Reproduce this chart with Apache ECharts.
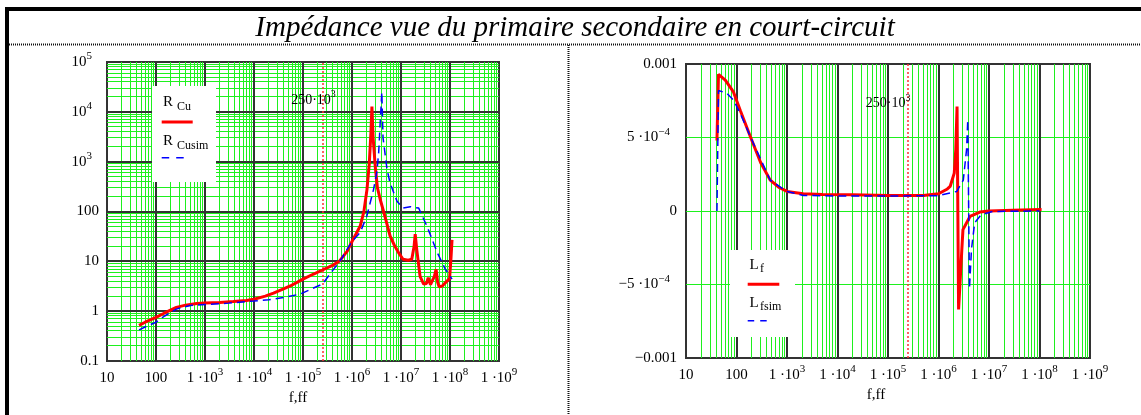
<!DOCTYPE html>
<html>
<head>
<meta charset="utf-8">
<script src="https://cdn.jsdelivr.net/npm/echarts@6/dist/echarts.min.js"></script>
<style>html,body{margin:0;padding:0;background:#fff}#c{width:1141px;height:415px}</style>
</head>
<body>
<div id="c"></div>
<script>
// ---- Data ----
const titleText = 'Impédance vue du primaire secondaire en court-circuit';
const xAxisName = 'f,ff';
const markerFreq = 250000;

// Left: R_Cu (red) and R_Cusim (blue dashed), log-log
const fRCu = [45, 60, 100, 150, 260, 400, 680, 1000, 2000, 3800, 7000, 10000, 17000, 25000, 40000, 55000, 100000, 160000, 250000, 400000, 550000, 800000, 1000000, 1200000, 1470000, 1750000, 2020000, 2250000, 2430000, 2550000, 2700000, 2980000, 3300000, 3770000, 4700000, 6000000, 7500000, 8900000, 11000000, 14000000, 16600000, 18500000, 19500000, 21000000, 24500000, 29000000, 33000000, 36000000, 40000000, 43000000, 48000000, 52000000, 56000000, 60000000, 70000000, 80000000, 98000000, 105000000, 110000000];
const vRCu = [0.52, 0.6, 0.75, 0.92, 1.19, 1.32, 1.43, 1.46, 1.5, 1.56, 1.64, 1.74, 2.0, 2.3, 2.8, 3.2, 4.4, 5.5, 6.7, 8.3, 10, 16, 25, 35, 51, 100, 275, 900, 3700, 12800, 3000, 800, 300, 174, 80, 32, 20, 15, 11, 10.5, 11, 20, 35, 17, 5, 3.5, 3.6, 4.7, 3.4, 3.5, 5, 6.9, 3.8, 3.1, 3.2, 3.7, 4.5, 12, 27];

const fRCusim = [45, 60, 100, 150, 260, 500, 1000, 3000, 10000, 20000, 40000, 87000, 150000, 250000, 420000, 600000, 1000000, 1470000, 2000000, 2750000, 3200000, 3500000, 3770000, 4060000, 4300000, 5200000, 6000000, 8300000, 11000000, 15500000, 23000000, 34000000, 55000000, 80000000, 110000000];
const vRCusim = [0.42, 0.48, 0.6, 0.8, 1.1, 1.3, 1.36, 1.45, 1.6, 1.7, 1.88, 2.2, 2.8, 3.5, 6.9, 11, 25, 38, 80, 275, 600, 1500, 6300, 25000, 3000, 690, 370, 160, 117, 125, 117, 50, 15, 7, 4.4];

// Right: L_f (red) and L_fsim (blue dashed), log x / linear y
const fLf = [41, 44, 60, 87, 120, 186, 300, 465, 700, 1000, 2100, 5000, 20000, 100000, 500000, 1000000, 1500000, 1700000, 2050000, 2200000, 2330000, 2500000, 2900000, 3050000, 4200000, 6600000, 10000000, 30000000, 110000000];
const vLf = [0.00048, 0.00093, 0.00089, 0.00081, 0.00068, 0.00051, 0.00033, 0.00021, 0.00016, 0.000133, 0.000117, 0.000112, 0.00011, 0.000106, 0.000105, 0.000117, 0.00015, 0.000167, 0.000258, 0.00042, 0.00071, -0.00067, -0.00026, -0.000127, -0.000037, -0.000007, 0.0, 0.000005, 0.00001];

const fLfsim = [41, 44, 65, 87, 120, 186, 465, 1000, 2100, 10000, 100000, 1000000, 2300000, 3100000, 3600000, 3800000, 4100000, 4500000, 5200000, 7000000, 12000000, 100000000];
const vLfsim = [0, 0.00082, 0.0008, 0.000755, 0.00066, 0.00051, 0.00021, 0.000133, 0.000106, 0.000102, 0.000102, 0.000104, 0.000133, 0.00021, 0.00042, 0.00062, -0.00053, -0.00026, -0.00008, -0.000025, -0.000003, 0];

// Tick labels
const leftYLabels = {'-1': '0.1', '0': '1', '1': '10', '2': '100', '3': '10^3', '4': '10^4', '5': '10^5'};
const rightYLabels = {'0.001': '0.001', '0.0005': '5 ·10^−4', '0': '0', '-0.0005': '−5 ·10^−4', '-0.001': '−0.001'};

// ---- Helpers ----
const zip = (a, b) => a.map((x, i) => [x, b[i]]);
const SERIF = 'Liberation Serif, Times New Roman, serif';
const GREEN = '#1ef01e';
const DARK = '#333333';
const rich = {
  n: {fontFamily: SERIF, fontSize: 15, lineHeight: 22, color: '#000'},
  s: {fontFamily: SERIF, fontSize: 11, lineHeight: 11, verticalAlign: 'top', color: '#000'},
  sy: {fontFamily: SERIF, fontSize: 11, lineHeight: 11, verticalAlign: 'top', color: '#000', padding: [0, 7, 0, 0]}
};
function toRich(str) {
  const p = str.split('^');
  return p.length > 1 ? '{n|' + p[0] + '}{sy|' + p[1] + '}' : '{n|' + p[0] + '}';
}
function xLabel(v) {
  const e = Math.round(Math.log10(v));
  if (e === 1) return '{n|10}';
  if (e === 2) return '{n|100}';
  return '{n|1 ·10}{s|' + e + '}';
}
const minorX = [], decX = [];
for (let n = 1; n <= 8; n++) {
  for (let k = 2; k <= 9; k++) minorX.push(k * Math.pow(10, n));
  if (n >= 2) decX.push(Math.pow(10, n));
}
const minorYL = [], decYL = [];
for (let n = -1; n <= 4; n++) {
  for (let k = 2; k <= 9; k++) minorYL.push(k * Math.pow(10, n));
  if (n >= 0) decYL.push(Math.pow(10, n));
}
// grid lines drawn through the axes' scales (custom series), snapped to crisp pixels
function gridSeries(xi, xs, ys, refX, refY, color, width, z) {
  const items = xs.map(v => [v, refY, 0]).concat(ys.map(v => [refX, v, 1]));
  return {
    type: 'custom', coordinateSystem: 'cartesian2d', xAxisIndex: xi, yAxisIndex: xi,
    data: items, z: z, silent: true, animation: false, clip: true,
    renderItem: function (params, api) {
      const cs = params.coordSys;
      const p = api.coord([api.value(0), api.value(1)]);
      const snap = v => (width % 2 === 1 ? Math.floor(v) + 0.5 : Math.round(v));
      const style = {stroke: color, lineWidth: width, fill: null};
      if (api.value(2) === 0) {
        const x = snap(p[0]);
        return {type: 'line', shape: {x1: x, y1: cs.y, x2: x, y2: cs.y + cs.height}, style: style};
      }
      const y = snap(p[1]);
      return {type: 'line', shape: {x1: cs.x, y1: y, x2: cs.x + cs.width, y2: y}, style: style};
    }
  };
}
function markerSeries(xi, yLabelVal, offset) {
  return {
    type: 'line', xAxisIndex: xi, yAxisIndex: xi, data: [], z: 3, silent: true,
    markLine: {silent: true, symbol: ['none', 'none'], animation: false, label: {show: false},
      lineStyle: {color: '#ff3030', width: 1.5, type: [2, 2]}, emphasis: {disabled: true},
      data: [{xAxis: markerFreq}]},
    markPoint: {silent: true, symbol: 'circle', symbolSize: 0, animation: false,
      data: [{coord: [markerFreq, yLabelVal]}],
      label: {show: true, position: 'inside', offset: offset, formatter: '{n|250·10}{s|3}',
        rich: {n: {fontFamily: SERIF, fontSize: 14, lineHeight: 20, color: '#000'},
               s: {fontFamily: SERIF, fontSize: 10, lineHeight: 10, verticalAlign: 'top', color: '#000'}}}}
  };
}
const lineRed = {color: '#ff0000', width: 3, type: 'solid'};
const lineBlue = {color: '#0000ff', width: 1.5, type: [8, 5]};

const chart = echarts.init(document.getElementById('c'), null, {renderer: 'canvas'});
const option = {
  animation: false,
  backgroundColor: '#ffffff',
  grid: [
    {left: 107, top: 62, width: 392, height: 299, show: true, backgroundColor: '#fff', borderColor: DARK, borderWidth: 2},
    {left: 686, top: 64, width: 404, height: 294, show: true, backgroundColor: '#fff', borderColor: DARK, borderWidth: 2}
  ],
  xAxis: [0, 1].map(i => ({
    type: 'log', logBase: 10, min: 10, max: 1e9, gridIndex: i,
    axisLine: {show: false}, axisTick: {show: false}, splitLine: {show: false}, minorSplitLine: {show: false},
    axisLabel: {formatter: xLabel, rich: rich, margin: 6, showMinLabel: true, showMaxLabel: true},
    name: xAxisName, nameLocation: 'middle', nameGap: i === 0 ? 24 : 26,
    nameTextStyle: {fontFamily: SERIF, fontSize: 15, color: '#000', padding: i === 0 ? [0, 10, 0, 0] : [0, 24, 0, 0]}
  })),
  yAxis: [
    {type: 'log', logBase: 10, min: 0.1, max: 1e5, gridIndex: 0,
     axisLine: {show: false}, axisTick: {show: false}, splitLine: {show: false},
     axisLabel: {margin: 8, rich: rich, showMinLabel: true, showMaxLabel: true,
       formatter: v => toRich(leftYLabels[String(Math.round(Math.log10(v)))] || '')}},
    {type: 'value', min: -0.001, max: 0.001, interval: 0.0005, gridIndex: 1,
     axisLine: {show: false}, axisTick: {show: false}, splitLine: {show: false},
     axisLabel: {margin: 9, rich: rich, showMinLabel: true, showMaxLabel: true,
       formatter: v => toRich(rightYLabels[String(Math.round(v * 1e4) / 1e4)] || '')}}
  ],
  series: [
    gridSeries(0, minorX, minorYL, 100, 1, GREEN, 1, 1),
    gridSeries(0, decX, decYL, 100, 1, DARK, 2, 2),
    gridSeries(1, minorX, [0.0005, 0, -0.0005], 100, 0, GREEN, 1, 1),
    gridSeries(1, decX, [], 100, 0, DARK, 2, 2),
    markerSeries(0, 17400, [-9, 0]),
    markerSeries(1, 0.000735, [-20, 0]),
    {name: 'R Cu', type: 'line', xAxisIndex: 0, yAxisIndex: 0, data: zip(fRCu, vRCu), showSymbol: false, symbol: 'none', lineStyle: lineRed, z: 5, clip: true},
    {name: 'R Cusim', type: 'line', xAxisIndex: 0, yAxisIndex: 0, data: zip(fRCusim, vRCusim), showSymbol: false, symbol: 'none', lineStyle: lineBlue, z: 6, clip: true},
    {name: 'L f', type: 'line', xAxisIndex: 1, yAxisIndex: 1, data: zip(fLf, vLf), showSymbol: false, symbol: 'none', lineStyle: lineRed, z: 5, clip: true},
    {name: 'L fsim', type: 'line', xAxisIndex: 1, yAxisIndex: 1, data: zip(fLfsim, vLfsim), showSymbol: false, symbol: 'none', lineStyle: lineBlue, z: 6, clip: true}
  ],
  graphic: [
    // frame
    {type: 'rect', z: 50, shape: {x: 5, y: 7, width: 1136, height: 4}, style: {fill: '#000'}},
    {type: 'rect', z: 50, shape: {x: 5, y: 7, width: 4, height: 408}, style: {fill: '#000'}},
    {type: 'line', z: 50, shape: {x1: 9, y1: 44.5, x2: 1141, y2: 44.5}, style: {stroke: '#111', lineWidth: 2, lineDash: [1, 1]}},
    {type: 'line', z: 50, shape: {x1: 568.5, y1: 45, x2: 568.5, y2: 415}, style: {stroke: '#111', lineWidth: 2, lineDash: [1, 1]}},
    {type: 'text', z: 50, x: 575, y: 28, style: {text: titleText, fontFamily: SERIF, fontStyle: 'italic', fontSize: 29, fill: '#000', textAlign: 'center', textVerticalAlign: 'middle'}},
    // left legend
    {type: 'rect', z: 40, shape: {x: 152, y: 86, width: 64, height: 96}, style: {fill: '#fff'}},
    {type: 'text', z: 41, x: 163, y: 102, style: {text: 'R', fontFamily: SERIF, fontSize: 15, fill: '#000', textVerticalAlign: 'middle'}},
    {type: 'text', z: 41, x: 177, y: 106.5, style: {text: 'Cu', fontFamily: SERIF, fontSize: 12, fill: '#000', textVerticalAlign: 'middle'}},
    {type: 'line', z: 41, shape: {x1: 161.7, y1: 122, x2: 192.7, y2: 122}, style: {stroke: '#ff0000', lineWidth: 3}},
    {type: 'text', z: 41, x: 163, y: 141, style: {text: 'R', fontFamily: SERIF, fontSize: 15, fill: '#000', textVerticalAlign: 'middle'}},
    {type: 'text', z: 41, x: 177, y: 145.5, style: {text: 'Cusim', fontFamily: SERIF, fontSize: 12, fill: '#000', textVerticalAlign: 'middle'}},
    {type: 'line', z: 41, shape: {x1: 161.7, y1: 157.7, x2: 184, y2: 157.7}, style: {stroke: '#0000ff', lineWidth: 1.5, lineDash: [7.5, 7]}},
    // right legend
    {type: 'rect', z: 40, shape: {x: 730, y: 250, width: 65, height: 87}, style: {fill: '#fff'}},
    {type: 'text', z: 41, x: 749.5, y: 265, style: {text: 'L', fontFamily: SERIF, fontSize: 15, fill: '#000', textVerticalAlign: 'middle'}},
    {type: 'text', z: 41, x: 760, y: 268.5, style: {text: 'f', fontFamily: SERIF, fontSize: 12, fill: '#000', textVerticalAlign: 'middle'}},
    {type: 'line', z: 41, shape: {x1: 747.7, y1: 284.3, x2: 779.3, y2: 284.3}, style: {stroke: '#ff0000', lineWidth: 3}},
    {type: 'text', z: 41, x: 749.5, y: 303.5, style: {text: 'L', fontFamily: SERIF, fontSize: 15, fill: '#000', textVerticalAlign: 'middle'}},
    {type: 'text', z: 41, x: 760, y: 307, style: {text: 'fsim', fontFamily: SERIF, fontSize: 12, fill: '#000', textVerticalAlign: 'middle'}},
    {type: 'line', z: 41, shape: {x1: 747.7, y1: 320.7, x2: 767, y2: 320.7}, style: {stroke: '#0000ff', lineWidth: 1.5, lineDash: [6.5, 6]}}
  ]
};
chart.setOption(option);
</script>
</body>
</html>
